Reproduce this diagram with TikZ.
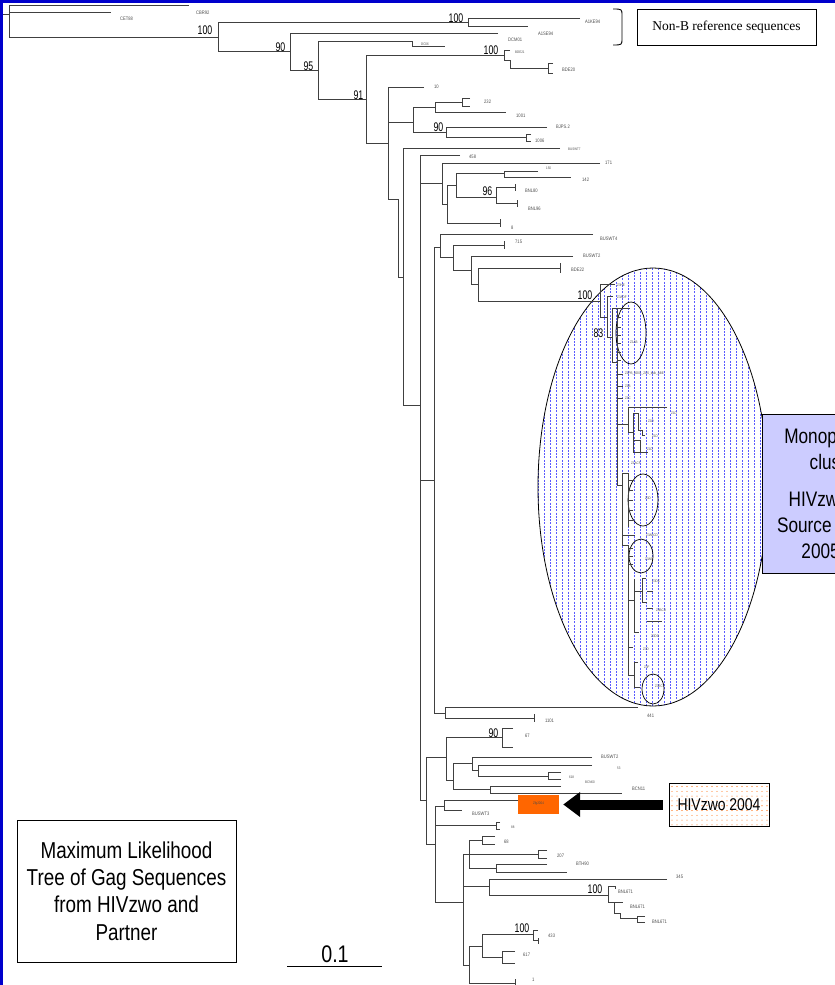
\documentclass[tikz,border=0pt]{standalone}
\usepackage{fontspec}
\setmainfont{Liberation Sans}
\newfontfamily\narrowsf[FakeStretch=0.82]{Liberation Sans}
\newfontfamily\condsf[FakeStretch=0.7]{Liberation Sans}
\newfontfamily\timesf{Liberation Serif}
\usetikzlibrary{arrows.meta,positioning}

\definecolor{frameblue}{RGB}{0,0,204}
\definecolor{hatchblue}{RGB}{90,90,255}
\definecolor{monofill}{RGB}{204,204,255}
\definecolor{zfgorange}{RGB}{255,102,0}

\newcommand{\leaffont}{\narrowsf\fontsize{5}{6}\selectfont}
\newcommand{\tinyfont}{\narrowsf\fontsize{3.6}{4}\selectfont}
\newcommand{\bootfont}{\condsf\fontsize{12.5}{14}\selectfont}
% bracket: x, top y, bottom y, end of top child, end of bottom child
\newcommand{\clade}[5]{\draw[br] (#4,#2) -- (#1,#2) -- (#1,#3) -- (#5,#3);}

\begin{document}
\begin{tikzpicture}[x=1pt, y=-1pt,
  br/.style={draw=black!75, line width=0.8pt},
  leaf/.style={anchor=west, inner sep=0pt, font=\leaffont, text=black!70},
  tinyleaf/.style={leaf, font=\tinyfont},
  boot/.style={anchor=south east, inner sep=0.5pt, font=\bootfont},
  oval/.style={draw=black, line width=0.7pt},
  note/.style={draw=black, line width=0.8pt, align=center, inner sep=0pt}
]
\useasboundingbox (0,0) rectangle (835,985);
\clip (0,0) rectangle (835,985);

% hatched ellipse of the cluster
\begin{scope}
  \clip (653,487) ellipse [x radius=115, y radius=219];
  \foreach \i in {0,...,38}
    \draw[hatchblue, line width=0.7pt, dash pattern=on 2pt off 1.3pt] (538.5+\i*6,265) -- (538.5+\i*6,710);
\end{scope}
\draw[line width=0.8pt] (653,487) ellipse [x radius=115, y radius=219];
\draw[oval] (631,333) ellipse [x radius=15, y radius=31];
\draw[oval] (643,500) ellipse [x radius=15, y radius=26];
\draw[oval] (641,556) ellipse [x radius=12, y radius=17];
\draw[oval] (653,689) ellipse [x radius=11, y radius=15];

% outgroups and non-B
\draw[br] (3,14) -- (9,14);
\clade{9}{5}{37}{189}{218}
\draw[br] (9,12) -- (111,12);
\clade{218}{22}{51}{468}{290}
\clade{468}{18}{26}{580}{528}
\clade{290}{33}{70}{498}{318}
\clade{318}{41}{99}{412}{366}
\draw[br] (412,41) -- (412,46) -- (445,46);
\clade{366}{55}{143}{504}{388}
\clade{504}{50}{60}{510}{510}
\draw[br] (510,60) -- (510,68) -- (548,68);
\clade{548}{63}{73}{553}{553}

% upper B group
\clade{388}{87}{199}{424}{398}
\draw[br] (388,122) -- (413,122);
\draw[br] (398,199) -- (398,277) -- (403,277);
\clade{413}{107}{132}{435}{446}
\clade{435}{102}{112}{462}{506}
\clade{462}{98}{106}{470}{470}
\clade{446}{127}{137}{547}{526}
\clade{526}{134}{141}{531}{531}
\clade{403}{148}{405}{560}{420}
\clade{420}{155}{800}{460}{426}
\draw[br] (420,183) -- (442,183);
\draw[br] (420,480) -- (434,480);
\clade{442}{163}{204}{600}{447}
\clade{447}{185}{223}{456}{500}
\draw[br] (500,219) -- (500,227);
\clade{456}{173}{197}{504}{496}
\clade{504}{171}{177}{538}{571}
\clade{496}{187}{203}{515}{517}
\draw[br] (515,184) -- (515,191) (517,200) -- (517,207);
\clade{434}{247}{713}{440}{445}
\clade{440}{234}{257}{593}{453}
\clade{453}{245}{270}{504}{471}
\draw[br] (504,241) -- (504,249);
\clade{471}{256}{284}{573}{478}
\clade{478}{268}{301}{560}{600}
\draw[br] (560,263) -- (560,273);

% monophyletic cluster
\clade{600}{284}{317}{615}{607}
\clade{607}{296}{337}{613}{612}
\clade{612}{308}{362}{617}{617}
\draw[br] (617,308) -- (617,485);
\draw[br] (617,308) -- (630,308);
\foreach \y in {317,327,335,343,352,360}
  \draw[br] (617,\y) -- (621,\y);
\foreach \y in {374,386,398}
  \draw[br] (617,\y) -- (623,\y);
\draw[br] (617,424) -- (628,424);
\clade{628}{407}{432}{667}{633}
\clade{633}{413}{452}{638}{648}
\draw[br] (638,413) -- (638,430) -- (642,430) -- (642,435) -- (645,435);
\draw[br] (633,440) -- (640,440) -- (640,452);
\draw[br] (617,485) -- (622,485);
\clade{622}{473}{545}{628}{628}
\draw[br] (622,535) -- (635,535);
\draw[br] (628,473) -- (628,527);
\foreach \y in {480,490,500,510,520}
  \draw[br] (628,\y) -- (633,\y);
\draw[br] (628,545) -- (628,675);
\foreach \y in {548,556,564}
  \draw[br] (628,\y) -- (633,\y);
\draw[br] (628,600) -- (634,600);
\draw[br] (634,579) -- (634,632) -- (639,632);
\draw[br] (634,591) -- (642,591);
\clade{642}{578}{602}{646}{647}
\draw[br] (647,591) -- (653,591) (647,608) -- (653,608) (647,621) -- (662,621);
\draw[br] (628,647) -- (633,647);
\draw[br] (628,675) -- (634,675);
\clade{634}{662}{687}{638}{640}

% 441 / 1101
\clade{445}{707}{718}{638}{534}
\draw[br] (534,714) -- (534,722);

% lower group
\clade{426}{757}{844}{446}{435}
\clade{446}{737}{780}{502}{453}
\clade{502}{728}{747}{513}{513}
\clade{453}{763}{789}{472}{490}
\clade{472}{757}{770}{592}{478}
\clade{478}{765}{776}{592}{548}
\clade{548}{772}{779}{561}{561}
\clade{490}{786}{793}{561}{622}
\clade{435}{806}{902}{444}{463}
\draw[br] (435,825) -- (496,825);
\clade{496}{822}{829}{500}{500}
\clade{444}{800}{810}{524}{462}
\clade{463}{854}{965}{469}{469}
\draw[br] (463,886) -- (489,886);
\clade{469}{840}{868}{482}{496}
\draw[br] (469,854) -- (538,854);
\clade{482}{836}{844}{495}{495}
\clade{538}{850}{858}{547}{547}
\clade{496}{864}{872}{547}{567}
\clade{489}{879}{895}{667}{608}
\clade{608}{886}{902}{615}{623}
\draw[br] (615,886) -- (615,889);
\draw[br] (614,902) -- (614,913) -- (620,913) -- (620,918) -- (637,918);
\clade{637}{916}{922}{645}{645}
\clade{469}{946}{983}{482}{515}
\draw[br] (515,979) -- (515,985);
\clade{482}{934}{957}{533}{502}
\clade{533}{930}{940}{538}{538}
\draw[br] (538,938) -- (538,944);
\clade{502}{951}{963}{515}{515}

% leaf labels
\node[leaf] (cbr92) at (196,13) {CBR92};
\node[leaf] (cet88) at (120,19) {CET88};
\node[leaf] (a1ke94) at (585,22) {A1KE94};
\node[leaf] (a1se94) at (538,34) {A1SE94};
\node[leaf] (dcm01) at (508,40) {DCM01};
\node[tinyleaf] (dc06) at (421,44) {DC06};
\node[tinyleaf] (bde21) at (515,52) {BDE21};
\node[leaf] (bde20) at (562,70) {BDE20};
\node[leaf] (s10) at (434,87) {10};
\node[leaf] (s232) at (484,102) {232};
\node[leaf] (s1001) at (516,116) {1001};
\node[leaf] (bjps2) at (556,127) {BJPS.2};
\node[leaf] (s1006) at (535,141) {1006};
\node[tinyleaf] (buswt7) at (568,149) {BUSWT7};
\node[leaf] (s458) at (469,157) {458};
\node[leaf] (s171) at (605,163) {171};
\node[tinyleaf] (s150) at (546,168) {150};
\node[leaf] (s142) at (582,180) {142};
\node[leaf] (bnl80) at (525,191) {BNL80};
\node[leaf] (bnl96) at (528,209) {BNL96};
\node[leaf] (s8) at (511,228) {8};
\node[leaf] (buswt4) at (600,239) {BUSWT4};
\node[leaf] (s715) at (515,242) {715};
\node[leaf] (buswt2a) at (583,256) {BUSWT2};
\node[leaf] (bde22) at (571,270) {BDE22};
\node[tinyleaf] (z3he) at (617,285) {Z3HE};
\node[tinyleaf] (z3adf) at (617,297) {Z3ADF};
\node[tinyleaf] (z1ab) at (630,342) {Z1AB};
\node[tinyleaf] (z1bulk) at (625,374) {Z1PB\_BD01\_ZCS\_bulk\_ABE};
\node[tinyleaf] (z1b) at (625,386) {Z1B};
\node[tinyleaf] (z1c) at (625,398) {Z1C};
\node[tinyleaf] (z1da) at (671,413) {Z1D};
\node[tinyleaf] (z1db) at (648,421) {Z1D};
\node[tinyleaf] (z1dc) at (652,436) {Z1D};
\node[tinyleaf] (z1dd) at (647,449) {Z1D};
\node[tinyleaf] (z1acf) at (631,463) {Z1ACF};
\node[tinyleaf] (z3da) at (645,498) {Z3D};
\node[tinyleaf] (z3abcd) at (646,535) {Z3ABCD};
\node[tinyleaf] (z3ae) at (645,559) {Z3AE};
\node[tinyleaf] (z3dc) at (652,581) {Z3DC};
\node[tinyleaf] (z3bcd) at (656,610) {Z3BCD};
\node[tinyleaf] (z3dg) at (651,636) {Z3DG};
\node[tinyleaf] (z3db) at (643,649) {Z3D};
\node[tinyleaf] (z3f) at (644,667) {Z3F};
\node[tinyleaf] (z3ec) at (655,686) {Z3EC};
\node[leaf] (s441) at (647,716) {441};
\node[leaf] (s1101) at (545,721) {1101};
\node[leaf] (s67) at (525,736) {67};
\node[leaf] (buswt2b) at (601,757) {BUSWT2};
\node[tinyleaf] (s53) at (617,768) {53};
\node[tinyleaf] (s618) at (569,777) {618};
\node[tinyleaf] (bcn60) at (585,782) {BCN60};
\node[leaf] (bcn11) at (632,789) {BCN11};
\node[leaf] (buswt3) at (472,814) {BUSWT3};
\node[tinyleaf] (s88) at (511,827) {88};
\node[leaf] (s68) at (504,842) {68};
\node[leaf] (s207) at (557,856) {207};
\node[leaf] (bth90) at (576,864) {BTH90};
\node[leaf] (s345) at (676,877) {345};
\node[leaf] (bnl671a) at (618,892) {BNL671};
\node[leaf] (bnl671b) at (630,907) {BNL671};
\node[leaf] (bnl671c) at (652,922) {BNL671};
\node[leaf] (s433) at (548,936) {433};
\node[leaf] (s617) at (523,955) {617};
\node[leaf] (s1) at (532,980) {1};

% bootstrap values
\node[boot] (bs100a) at (213,35) {100};
\node[boot] (bs90a) at (286,52) {90};
\node[boot] (bs95) at (314,71) {95};
\node[boot] (bs91) at (364,100) {91};
\node[boot] (bs100b) at (464,23) {100};
\node[boot] (bs100c) at (499,55) {100};
\node[boot] (bs90b) at (444,132) {90};
\node[boot] (bs96) at (493,196) {96};
\node[boot] (bs100d) at (593,300) {100};
\node[boot] (bs83) at (604,338) {83};
\node[boot] (bs90c) at (499,738) {90};
\node[boot] (bs100e) at (603,894) {100};
\node[boot] (bs100f) at (530,933) {100};

% annotations
\node[note, font=\timesf\fontsize{13.5}{16}\selectfont, minimum width=179, minimum height=36] (nonb) at (726.5,27) {Non-B reference sequences};
\draw[line width=0.9pt] (613,9) .. controls (622,9) .. (622,16) -- (622,38) .. controls (622,45) .. (613,45);

\node[note, fill=monofill, line width=0.9pt, minimum width=146, minimum height=159,
  font=\narrowsf\fontsize{21}{26}\selectfont] (mono) at (835,493.5)
  {Monophyletic\\cluster\\[11pt]HIVzwo and\\Source Partner\\2005\hphantom{000}};

\foreach \i in {0,...,19}
  \foreach \j in {0,...,8}
    \fill[zfgorange] (672+\i*5, 786.5+\j*4.8) circle (0.55);
\node[note, line width=1pt, minimum width=100, minimum height=43,
  font=\narrowsf\fontsize{17}{20}\selectfont] (hivbox) at (719,804.5) {HIVzwo 2004};
\node[fill=zfgorange, minimum width=41, minimum height=19, inner sep=0pt,
  font=\tinyfont, text=black!70] (zfg) at (538.5,804) {Zfg2004};
\draw[-{Triangle[length=17pt,width=24pt]}, line width=10pt, shorten <=6pt, shorten >=4pt]
  (hivbox.west) -- (zfg.east |- hivbox.west);

\node[note, minimum width=219, minimum height=142,
  font=\narrowsf\fontsize{23}{27.3}\selectfont] (mlbox) at (126.5,891)
  {Maximum Likelihood\\Tree of Gag Sequences\\from HIVzwo and\\Partner};

\coordinate (sbl) at (287,966);
\coordinate (sbr) at (382,966);
\draw[line width=0.9pt] (sbl) -- (sbr);
\node[anchor=south, inner sep=1pt, font=\narrowsf\fontsize{24}{26}\selectfont] (scale) at (335,964) {0.1};

% frame
\fill[frameblue] (0,0) rectangle (835,2.5);
\fill[frameblue] (0,0) rectangle (3,985);
\end{tikzpicture}
\end{document}
